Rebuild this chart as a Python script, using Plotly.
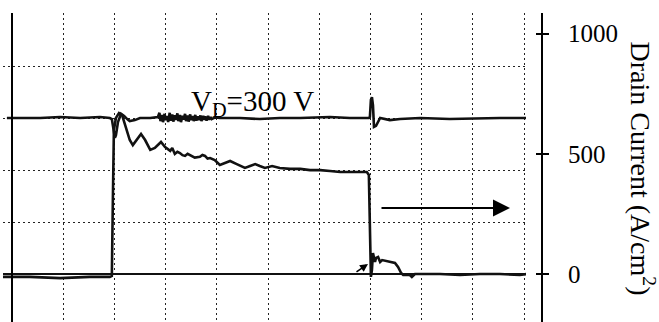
import plotly.graph_objects as go

# ---- data (time in scope divisions, current in A/cm^2, voltage in V) ----
t_current = [-0.18, 0.35, 0.94, 1.52, 1.91, 1.95, 1.97, 1.99, 2.03, 2.09, 2.15, 2.23, 2.30, 2.36,
             2.44, 2.52, 2.60, 2.70, 2.79, 2.91, 2.99, 3.04, 3.09, 3.13, 3.18, 3.23, 3.28, 3.33,
             3.38, 3.43, 3.48, 3.57, 3.67, 3.72, 3.77, 3.82, 3.87, 3.96, 4.06, 4.16, 4.26, 4.39,
             4.55, 4.65, 4.75, 4.84, 4.94, 5.08, 5.23, 5.43, 5.63, 5.82, 6.02, 6.21, 6.41, 6.60,
             6.80, 6.93, 6.97, 6.99, 7.01, 7.03, 7.05, 7.09, 7.11, 7.15, 7.19, 7.23, 7.30, 7.38,
             7.48, 7.54, 7.60, 7.64, 7.77, 7.81, 7.87, 8.36, 8.75, 9.14, 9.53, 9.92, 10.06]
current = [-12, -12, -17, -12, -12, -8, 308, 599, 649, 669, 661, 607, 557, 536,
           557, 582, 557, 516, 524, 549, 528, 520, 512, 524, 499, 508, 503, 494,
           491, 500, 495, 484, 487, 495, 491, 480, 482, 474, 453, 462, 470, 457,
           441, 449, 457, 449, 441, 449, 441, 437, 437, 432, 432, 428, 424, 424,
           424, 424, 412, 225, -12, 17, 87, 50, 67, 71, 50, 58, 54, 50,
           46, 29, 4, -4, -4, -12, 0, 0, -4, 0, 0, -4, 0]

t_voltage = [-0.10, 0.55, 0.94, 1.33, 1.72, 1.91, 1.95, 1.99, 2.01, 2.03, 2.07, 2.13, 2.19, 2.25,
             2.30, 2.40, 2.50, 2.70, 2.85,
             2.88, 2.90, 2.93, 2.95, 2.98, 3.00, 3.03, 3.05, 3.08, 3.10, 3.13, 3.15, 3.18, 3.20,
             3.23, 3.25, 3.28, 3.30, 3.33, 3.35, 3.38, 3.40, 3.43, 3.45, 3.48, 3.50, 3.53, 3.55,
             3.58, 3.60, 3.63, 3.65, 3.68, 3.70, 3.73, 3.75, 3.78, 3.80, 3.83, 3.85, 3.88, 3.90,
             3.96, 4.06, 4.45, 4.84, 5.23, 5.63, 6.21,
             6.60, 6.89, 6.97, 6.99, 7.01, 7.03, 7.05, 7.07, 7.11, 7.19, 7.38, 7.58, 7.97, 8.55,
             9.14, 9.53, 10.06]
voltage = [300, 300, 302, 300, 302, 300, 298, 277, 262, 267, 292, 308, 304, 298,
           294, 296, 300, 300, 302,
           310, 294, 306, 292, 308, 296, 304, 292, 310, 295, 307, 293, 305, 296, 309,
           294, 306, 292, 304, 297, 308, 294, 305, 293, 307, 296, 304, 294, 306,
           295, 303, 296, 305, 294, 304, 297, 303, 295, 304, 297, 302, 298, 301,
           300, 300, 298, 300, 300, 302, 300,
           300, 300, 302, 335, 340, 325, 283, 285, 300, 296, 298, 300, 298, 300,
           300, 300, 300]

current_ticks = [0, 500, 1000]
current_tick_text = ["0", "500", "1000"]
volt_label = "V<sub>D</sub>=300 V"
y_title = "Drain Current (A/cm<sup>2</sup>)"

W, H = 659, 322
FONT = "Liberation Serif, Times New Roman, serif"

fig = go.Figure()
fig.add_trace(go.Scatter(x=t_voltage, y=voltage, mode="lines", yaxis="y2",
                         line=dict(color="#111", width=2.6), showlegend=False))
fig.add_trace(go.Scatter(x=t_current, y=current, mode="lines", yaxis="y",
                         line=dict(color="#111", width=2.6), showlegend=False))

x_dom = [3 / W, 526 / W]
y_dom = [0, 1 - 13 / H]
grid_dash = "2px,3px"

fig.update_layout(
    width=W, height=H, margin=dict(l=0, r=0, t=0, b=0),
    paper_bgcolor="white", plot_bgcolor="white",
    font=dict(family=FONT, color="black"),
    xaxis=dict(domain=x_dom, range=[(3 - 12) / 51.2, (526 - 12) / 51.2],
               showticklabels=False, ticks="", zeroline=False, showline=False,
               showgrid=True, dtick=1, tick0=0, gridcolor="#222", gridwidth=1.4,
               griddash=grid_dash),
    yaxis=dict(domain=y_dom, range=[(274 - 322) / 0.2405, (274 - 13) / 0.2405],
               anchor="free", position=542 / W, side="right",
               tickvals=current_ticks, ticktext=current_tick_text,
               ticks="outside", ticklen=6, tickwidth=2, tickcolor="black",
               ticklabelstandoff=14,
               tickfont=dict(family=FONT, size=25, color="black"),
               showline=True, linecolor="black", linewidth=2,
               showgrid=False, zeroline=True, zerolinecolor="#111", zerolinewidth=1.6),
    yaxis2=dict(overlaying="y", range=[(274 - 322) / 0.52, (274 - 13) / 0.52],
                anchor="free", position=12 / W, side="left",
                showticklabels=False, ticks="", showline=True, linecolor="black",
                linewidth=2.2, zeroline=False,
                showgrid=True, dtick=100, tick0=0, gridcolor="#222", gridwidth=1.4,
                griddash=grid_dash),
    yaxis3=dict(overlaying="y", range=[(274 - 322) / 0.2405, (274 - 13) / 0.2405],
                anchor="free", position=542 / W, side="left",
                tickvals=current_ticks, ticks="outside", ticklen=6, tickwidth=2,
                tickcolor="black", showticklabels=False, showline=False,
                showgrid=False, zeroline=False),
)

# invisible trace to activate yaxis3
fig.add_trace(go.Scatter(x=[None], y=[None], yaxis="y3", showlegend=False))

fig.add_annotation(text=volt_label, xref="paper", yref="paper",
                   x=252 / W, y=1 - 83 / H, showarrow=False,
                   font=dict(family=FONT, size=29, color="black"))
fig.add_annotation(text=y_title, xref="paper", yref="paper",
                   x=662 / W, y=1 - 168 / H, showarrow=False, textangle=90,
                   font=dict(family=FONT, size=28, color="black"))
# big arrow
fig.add_annotation(text="", xref="paper", yref="paper", x=510 / W, y=1 - 208 / H,
                   ax=-130, ay=0, showarrow=True, arrowhead=2, arrowsize=1.7,
                   arrowwidth=2, arrowcolor="black")
# small arrow near turn-off
fig.add_annotation(text="", xref="paper", yref="paper", x=368 / W, y=1 - 264 / H,
                   ax=-13, ay=9, showarrow=True, arrowhead=2, arrowsize=1,
                   arrowwidth=1.6, arrowcolor="black")

fig.write_html("out.html", config={"displayModeBar": False},
               post_script="document.body.style.margin='0';document.body.style.overflow='hidden';")
